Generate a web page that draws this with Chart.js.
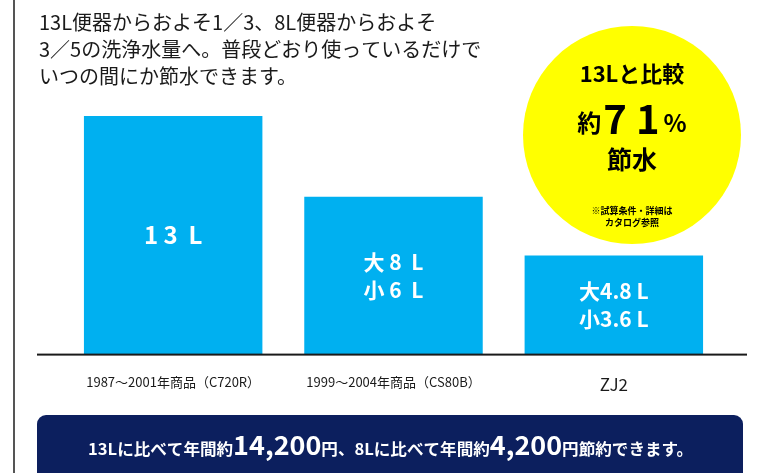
<!DOCTYPE html>
<html>
<head>
<meta charset="utf-8">
<script src="https://cdn.jsdelivr.net/npm/chart.js@4/dist/chart.umd.min.js"></script>
<style>
  body { margin: 0; background: #fff; }
  canvas { display: block; }
</style>
</head>
<body>
<canvas id="flush" width="760" height="473"></canvas>
<script>
// data
var categories = ['1987～2001年商品（C720R）', '1999～2004年商品（CS80B）', 'ZJ2'];
var volumes = [13, 8.6, 5.4];   // bar heights as drawn (litres scale)
var barLabels = [['1 3  L'], ['大 8  L', '小 6  L'], ['大4.8 L', '小3.6 L']];
var introLines = [
  '13L便器からおよそ1／3、8L便器からおよそ',
  '3／5の洗浄水量へ。普段どおり使っているだけで',
  'いつの間にか節水できます。'
];
var badgeTop = '13Lと比較';
var badgeRate = '71';
var badgeNote = ['※試算条件・詳細は', 'カタログ参照'];
var savingParts = [
  ['13Lに比べて年間約', 0], ['14,200', 1], ['円、8Lに比べて年間約', 0],
  ['4,200', 1], ['円節約できます。', 0]
];

var JP = '"Noto Sans CJK JP", "Noto Sans", sans-serif';

var decor = {
  id: 'decor',
  beforeDraw: function (chart) {
    var c = chart.ctx;
    c.save();
    // left frame line
    c.fillStyle = '#555';
    c.fillRect(13, 0, 2, 473);
    // intro text
    c.fillStyle = '#1a1a1a';
    c.font = '20px ' + JP;
    c.textBaseline = 'middle';
    c.textAlign = 'left';
    introLines.forEach(function (t, i) { c.fillText(t, 39, 22 + i * 27); });
    c.restore();
  },
  afterDatasetsDraw: function (chart) {
    var c = chart.ctx;
    var meta = chart.getDatasetMeta(0);
    var base = chart.chartArea.bottom;
    c.save();
    // baseline
    c.fillStyle = '#1a1a1a';
    c.fillRect(37, base - 1, 710, 2);
    // labels in bars
    c.fillStyle = '#fff';
    c.textAlign = 'center';
    c.textBaseline = 'middle';
    meta.data.forEach(function (bar, i) {
      var lines = barLabels[i];
      var mid = (bar.y + base) / 2;
      c.font = 'bold ' + (i === 0 ? 24 : 21) + 'px ' + JP;
      lines.forEach(function (t, k) {
        c.fillText(t, bar.x, mid + (k - (lines.length - 1) / 2) * 28);
      });
    });
    c.restore();
  },
  afterDraw: function (chart) {
    var c = chart.ctx;
    c.save();
    // yellow badge
    c.fillStyle = '#ffff00';
    c.beginPath();
    c.arc(632, 135, 109, 0, Math.PI * 2);
    c.fill();
    c.fillStyle = '#000';
    c.textAlign = 'center';
    c.textBaseline = 'middle';
    c.font = 'bold 22px ' + JP;
    c.fillText(badgeTop, 632, 74);
    // 約71%
    var f1 = 'bold 24px ' + JP, f2 = 'bold 40px ' + JP, f3 = 'bold 24px ' + JP;
    c.font = f1; var w1 = c.measureText('約').width;
    c.font = f2; var w2 = c.measureText(badgeRate.split('').join(' ')).width;
    c.font = f3; var w3 = c.measureText('%').width;
    var x = 632 - (w1 + w2 + w3 + 6) / 2;
    c.textAlign = 'left';
    c.font = f1; c.fillText('約', x, 123); x += w1 + 2;
    c.font = f2; c.fillText(badgeRate.split('').join(' '), x, 119); x += w2 + 4;
    c.font = f3; c.fillText('%', x, 123);
    c.textAlign = 'center';
    c.font = 'bold 25px ' + JP;
    c.fillText('節水', 632, 159);
    c.font = 'bold 9px ' + JP;
    c.fillText(badgeNote[0], 632, 211);
    c.fillText(badgeNote[1], 632, 223);

    // navy panel
    c.fillStyle = '#0c1f5e';
    c.beginPath();
    c.roundRect(37, 415, 706, 80, 9);
    c.fill();
    c.fillStyle = '#fff';
    c.textAlign = 'left';
    c.textBaseline = 'alphabetic';
    var fonts = ['bold 16px ' + JP, 'bold 26px ' + JP];
    var total = 0;
    savingParts.forEach(function (p) { c.font = fonts[p[1]]; total += c.measureText(p[0]).width; });
    var s = 605 / total;
    c.translate(88, 455);
    c.scale(s, 1);
    var px = 0;
    savingParts.forEach(function (p) {
      c.font = fonts[p[1]];
      c.fillText(p[0], px, 0);
      px += c.measureText(p[0]).width;
    });
    c.restore();
  }
};

new Chart(document.getElementById('flush'), {
  type: 'bar',
  data: {
    labels: categories,
    datasets: [{
      data: volumes,
      backgroundColor: '#00b0f0',
      barPercentage: 0.81,
      categoryPercentage: 1
    }]
  },
  options: {
    responsive: false,
    animation: false,
    layout: { padding: { left: 63, right: 36, top: 116, bottom: 58 } },
    plugins: { legend: { display: false }, tooltip: { enabled: false } },
    scales: {
      x: {
        grid: { display: false, drawTicks: false },
        border: { display: false },
        ticks: {
          padding: 20,
          color: '#1a1a1a',
          maxRotation: 0,
          autoSkip: false,
          font: function (ctx) {
            return ctx.index === 2 ? { family: JP, size: 17 } : { family: JP, size: 13 };
          }
        }
      },
      y: { display: false, min: 0, max: 13 }
    }
  },
  plugins: [decor]
});
</script>
</body>
</html>
